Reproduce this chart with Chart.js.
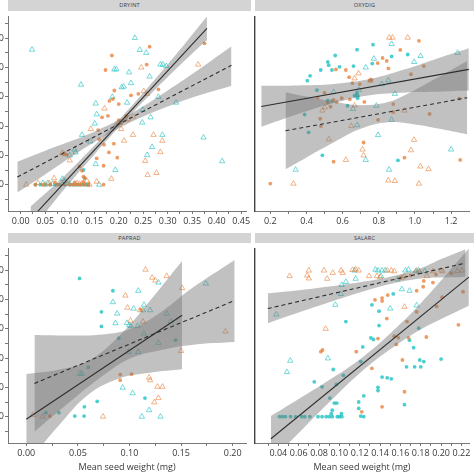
<!DOCTYPE html>
<html><head><meta charset="utf-8">
<script src="https://cdn.jsdelivr.net/npm/chart.js@4.4.1/dist/chart.umd.min.js"></script>
<style>
html,body{margin:0;padding:0;background:#fff;}
body{width:474px;height:474px;overflow:hidden;position:relative;font-family:'Open Sans',sans-serif;}
canvas{position:absolute;}
.strip{position:absolute;background:#d4d4d4;color:#3a3a3a;font-size:5.6px;text-align:center;letter-spacing:0.2px;}
</style></head><body>
<canvas id="c1" width="273" height="221" style="left:-22px;top:12px"></canvas>
<canvas id="c2" width="224" height="221" style="left:250px;top:12px"></canvas>
<canvas id="c3" width="273" height="229" style="left:-22px;top:244px"></canvas>
<canvas id="c4" width="224" height="229" style="left:250px;top:244px"></canvas>
<div class="strip" style="left:8px;top:0;width:243px;height:11px;line-height:11px">DRYINT</div>
<div class="strip" style="left:255px;top:0;width:219px;height:11px;line-height:11px">OXYDIG</div>
<div class="strip" style="left:8px;top:233px;width:243px;height:10px;line-height:10px">PAPRAD</div>
<div class="strip" style="left:255px;top:233px;width:219px;height:10px;line-height:10px">SALARC</div>
<script>
// ---------- shared y axis ----------
const yTickValues = [0, 20, 40, 60, 80, 100];
const yTickLabels = ['0', '20', '40', '60', '80', '100'];
const yMinorTicks = [-10, 10, 30, 50, 70, 90, 110];

// ---------- DRYINT ----------
const dryintXTicks = [0, 0.05, 0.10, 0.15, 0.20, 0.25, 0.30, 0.35, 0.40, 0.45];
const dryintXLabels = ['0.00','0.05','0.10','0.15','0.20','0.25','0.30','0.35','0.40','0.45'];
const dryintXMinor = [0.025, 0.075, 0.125, 0.175, 0.225, 0.275, 0.325, 0.375, 0.425];
const dryintOrangeDots = [[0.375,96.5],[0.263,94.2],[0.186,88.2],[0.173,78.3],[0.257,82],[0.191,64.3],[0.181,57.2],[0.188,58.5],[0.281,65],[0.178,47],[0.166,46],[0.158,37.3],[0.17,27.3],[0.18,22],[0.197,18.4],[0.155,18],[0.169,12.9],[0.12,12.4],[0.125,9.5],[0.128,5.5],[0.131,4.5],[0.169,0],[0.205,42],[0.2,44],[0.215,47],[0.24,62],[0.2,55],[0.225,61],[0.16,31],[0.19,28],[0.088,21],[0.094,20.5],[0.03,0],[0.045,0],[0.06,0],[0.075,0],[0.1,0],[0.108,0],[0.115,0],[0.122,0],[0.13,0],[0.138,0],[0.07,1.5],[0.11,1.5],[0.128,1.8]];
const dryintOrangeTri = [[0.362,82],[0.246,80],[0.251,63.9],[0.258,62],[0.171,52],[0.143,38],[0.22,45],[0.229,46.5],[0.215,44],[0.271,34],[0.289,30],[0.229,34],[0.211,30],[0.285,22.2],[0.254,16.2],[0.259,6.7],[0.277,8],[0.185,4],[0.155,2],[0.085,21.7],[0.09,20.8],[0.1,16.6],[0.068,4.4],[0.011,0],[0.035,1.2],[0.05,0],[0.058,1],[0.085,0.5],[0.115,1],[0.125,0.5],[0.135,2.5],[0.12,0.5],[0.095,0.5],[0.14,0],[0.205,38],[0.195,41]];
const dryintCyanDots = [[0.128,10],[0.13,4.5],[0.03,0],[0.04,0],[0.05,0],[0.06,0],[0.07,0],[0.08,0],[0.09,0],[0.1,0],[0.105,0],[0.11,0],[0.115,0],[0.12,0],[0.125,0],[0.13,0],[0.135,0],[0.138,0]];
const dryintCyanTri = [[0.023,92.2],[0.233,100.2],[0.243,92],[0.256,90],[0.191,78.7],[0.195,78.7],[0.221,76.7],[0.123,68.3],[0.206,66.5],[0.21,67],[0.225,69.4],[0.263,73.8],[0.285,82],[0.29,82],[0.297,81],[0.153,55.4],[0.187,59.9],[0.217,56],[0.249,51.2],[0.281,59.9],[0.317,56],[0.265,46],[0.248,42.4],[0.151,41.7],[0.125,34],[0.142,29.5],[0.289,34],[0.373,32.2],[0.268,25.7],[0.258,20.2],[0.411,16],[0.153,14],[0.193,10],[0.16,0],[0.085,4],[0.1,0.5],[0.112,22],[0.1,20],[0.11,24],[0.155,48],[0.045,1],[0.055,1],[0.065,0.5],[0.09,2.5]];
const dryintSolidLine = [[0.02,-23.6],[0.38,106.8]];
const dryintSolidBandX = [0.02, 0.09, 0.15, 0.21, 0.27, 0.33, 0.38];
const dryintSolidBandLo = [-32, -2.7, 20.5, 42.7, 63.4, 83.2, 98.8];
const dryintSolidBandHi = [-15, 6.3, 26.5, 47.7, 70.4, 94.2, 114.8];
const dryintDashedLine = [[-0.007,5.2],[0.43,81.5]];
const dryintDashedBandX = [-0.007, 0.05, 0.10, 0.15, 0.20, 0.25, 0.30, 0.35, 0.43];
const dryintDashedBandLo = [-5.3, 7, 18.4, 29, 38.5, 46.5, 53.3, 59.5, 67.6];
const dryintDashedBandHi = [15.7, 23.2, 29.4, 36.2, 44.1, 53.5, 64.3, 75.5, 94.5];

// ---------- OXYDIG ----------
const oxydigXTicks = [0.2, 0.4, 0.6, 0.8, 1.0, 1.2];
const oxydigXLabels = ['0.2','0.4','0.6','0.8','1.0','1.2'];
const oxydigXMinor = [0.3, 0.5, 0.7, 0.9, 1.1];
const oxydigOrangeDots = [[0.2,0.7],[1.022,98.2],[0.919,92],[0.821,86.5],[0.844,84.5],[0.794,83],[0.853,79.4],[1.049,81],[0.978,75.4],[0.75,71.2],[0.76,71.6],[0.636,73.4],[0.618,78.3],[0.563,78.7],[0.654,69.4],[0.695,68.7],[0.5,62.7],[0.518,56],[0.55,57.8],[0.567,56.5],[0.533,53.2],[0.595,59],[0.64,58.3],[0.72,56.5],[0.476,45],[0.48,40],[0.55,15.7],[0.716,28.8],[0.88,55],[0.88,49.5],[0.796,44.3],[0.942,18.4],[1.081,48.3],[1.25,16.9],[1.245,58.8],[0.462,59.4]];
const oxydigOrangeTri = [[0.858,100.4],[0.876,100.4],[0.96,100.4],[0.688,76],[0.666,72.6],[0.753,71],[0.488,50.6],[0.502,52.8],[0.648,40],[0.524,31],[0.71,24],[0.716,20],[0.618,16.9],[0.328,0.7],[0.853,2.9],[0.889,2.5],[1.022,0.7],[1.03,12.4],[1.075,10.6],[0.995,30.6],[0.978,23.5],[0.942,50.6],[0.666,54]];
const oxydigCyanDots = [[0.559,88.2],[0.518,83.8],[0.523,81.6],[0.479,78.3],[0.541,78.3],[0.583,80.5],[0.42,74.3],[0.405,71],[0.68,92.2],[0.768,95.6],[0.764,82.7],[0.871,87.6],[0.96,88.9],[0.66,81],[0.458,64.5],[0.518,57.6],[0.541,57.2],[0.679,62.5],[0.683,60.8],[0.683,59],[0.666,60.8],[0.627,53.9],[0.39,47.9],[0.412,35.7],[0.488,20],[0.906,16.6]];
const oxydigCyanTri = [[0.871,96],[0.773,86],[0.728,80],[1.031,87.8],[0.996,83.8],[1.236,90],[0.853,71.2],[0.817,68.7],[0.55,63.2],[0.68,61],[0.69,64.7],[0.657,51.7],[0.787,53.9],[0.889,62],[0.871,44.3],[0.681,40.6],[0.796,33.9],[0.728,16.9],[0.34,10.2],[0.857,10.2],[1.2,24]];
const oxydigSolidLine = [[0.15,53.4],[1.298,78.7]];
const oxydigSolidBandX = [0.15, 0.35, 0.55, 0.75, 0.95, 1.1, 1.298];
const oxydigSolidBandLo = [39.5, 48, 55.7, 61.1, 63, 63.4, 64.3];
const oxydigSolidBandHi = [67.6, 67.7, 68.7, 72.1, 79, 85.2, 93.1];
const oxydigDashedLine = [[0.284,36.8],[1.289,59.4]];
const oxydigDashedBandX = [0.284, 0.4, 0.55, 0.7, 0.85, 1.0, 1.15, 1.289];
const oxydigDashedBandLo = [10.5, 18.6, 28.8, 38.1, 42.6, 41.1, 37.8, 34.4];
const oxydigDashedBandHi = [63.1, 60.2, 56.8, 54.3, 56.4, 64.7, 74.8, 84.4];

// ---------- PAPRAD ----------
const papradXTicks = [0, 0.05, 0.10, 0.15, 0.20];
const papradXLabels = ['0.00','0.05','0.10','0.15','0.20'];
const papradXMinor = [0.025, 0.075, 0.125, 0.175];
const papradOrangeDots = [[0.0228,0.4],[0.091,28.7],[0.091,24.9],[0.111,73.1],[0.102,29]];
const papradOrangeTri = [[0.1155,100.4],[0.122,94.9],[0.125,93],[0.136,96],[0.096,82.7],[0.098,74.4],[0.101,65.6],[0.11,72.7],[0.113,64.9],[0.151,87.8],[0.15,44.9],[0.193,58.2],[0.12,24.9],[0.119,26.7],[0.127,20.4],[0.124,9.8],[0.128,12.7],[0.0744,0],[0.0158,0],[0.0063,1.1],[0.132,20.4]];
const papradCyanDots = [[0.0516,94.4],[0.0839,86],[0.0728,71.6],[0.0728,61.6],[0.0896,53.6],[0.0601,33.6],[0.0687,10.4],[0.0563,6.7],[0.047,0.4],[0.056,0.4],[0.0316,2.7],[0.019,2.7],[0.115,12.7],[0.1446,52.2]];
const papradCyanTri = [[0.0839,78.2],[0.088,70.4],[0.0864,63.8],[0.0975,64],[0.0997,62.4],[0.1013,61.8],[0.104,73.8],[0.108,62],[0.113,72.7],[0.12,72.7],[0.114,76.4],[0.1085,86],[0.128,91.6],[0.136,70.4],[0.114,56.7],[0.128,50.4],[0.099,44.2],[0.1085,44.2],[0.0934,19.8],[0.103,16],[0.119,4.4],[0.112,0],[0.13,0],[0.174,90.9],[0.052,29.3],[0.054,29.3],[0.14,65]];
const papradSolidLine = [[0,-1.8],[0.151,69.3]];
const papradSolidBandX = [0, 0.03, 0.06, 0.09, 0.12, 0.151];
const papradSolidBandLo = [-32.8, -7.3, 15, 26.1, 30, 32.3];
const papradSolidBandHi = [29.2, 31.9, 38, 55.1, 79.4, 106.3];
const papradDashedLine = [[0.0079,22.7],[0.2019,79.3]];
const papradDashedBandX = [0.0079, 0.04, 0.07, 0.10, 0.13, 0.16, 0.2019];
const papradDashedBandLo = [-10.3, 8.8, 25.7, 39.5, 45.4, 49, 50.9];
const papradDashedBandHi = [55.7, 55.4, 55.9, 59.7, 71.2, 87.5, 107];

// ---------- SALARC ----------
const salarcXTicks = [0.04, 0.06, 0.08, 0.10, 0.12, 0.14, 0.16, 0.18, 0.20, 0.22];
const salarcXLabels = ['0.04','0.06','0.08','0.10','0.12','0.14','0.16','0.18','0.20','0.22'];
const salarcXMinor = [0.03, 0.05, 0.07, 0.09, 0.11, 0.13, 0.15, 0.17, 0.19, 0.21];
const salarcOrangeDots = [[0.0818,44.4],[0.0834,45.5],[0.1166,44.4],[0.132,33],[0.138,53.3],[0.142,81],[0.142,78.9],[0.1476,83],[0.1466,67],[0.154,54.9],[0.156,49.3],[0.158,53.8],[0.162,38.7],[0.1665,64.9],[0.168,53.8],[0.176,71.6],[0.176,86],[0.1824,88.7],[0.1855,54.4],[0.183,92.7],[0.192,91.6],[0.1957,75.3],[0.201,81.6],[0.217,62.7],[0.2216,85.3],[0.142,6.7],[0.122,3.3],[0.164,17],[0.135,79.8],[0.16,95],[0.17,96.5],[0.21,98],[0.195,97]];
const salarcOrangeTri = [[0.0511,96],[0.07,99.8],[0.0684,96.4],[0.07,94.4],[0.0849,99.8],[0.088,94.2],[0.0935,98.2],[0.1017,99.8],[0.1033,98.2],[0.113,100.2],[0.116,100.6],[0.119,99.8],[0.1292,96],[0.137,96],[0.14,95.3],[0.147,99.8],[0.151,99.8],[0.154,99.3],[0.1615,94.9],[0.164,96],[0.176,99.8],[0.179,98.7],[0.186,96],[0.192,99.3],[0.2,99.8],[0.2016,99.3],[0.216,99.3],[0.2205,99.8],[0.0865,60],[0.164,75]];
const salarcCyanDots = [[0.1064,64.9],[0.123,47.6],[0.132,76.4],[0.139,72],[0.139,62.2],[0.131,53.8],[0.1335,52.7],[0.121,37.6],[0.142,27],[0.147,26.5],[0.151,25.8],[0.138,20],[0.138,17.8],[0.124,14.2],[0.119,10],[0.119,5.6],[0.121,0.4],[0.124,0],[0.104,28.2],[0.097,22],[0.083,20.4],[0.0754,23.8],[0.0906,12.7],[0.095,9.3],[0.0975,9.3],[0.093,4.4],[0.092,2],[0.102,2],[0.164,8.2],[0.169,52.2],[0.173,47.1],[0.178,60.4],[0.179,38.7],[0.18,34],[0.174,34],[0.166,34],[0.183,37.6],[0.2,39.3],[0.094,32.2],[0.153,83.8],[0.041,0],[0.044,0],[0.047,0],[0.052,0],[0.057,0],[0.063,0],[0.066,0],[0.071,0],[0.079,0],[0.083,0],[0.087,0],[0.09,0],[0.093,0],[0.098,0],[0.1,0],[0.1025,0]];
const salarcCyanTri = [[0.038,69.8],[0.0517,38.2],[0.0485,30.4],[0.0887,39.8],[0.096,76.4],[0.1023,90],[0.1014,83.8],[0.1064,92],[0.115,99.8],[0.116,94.2],[0.1355,100.4],[0.138,99.8],[0.142,99.8],[0.145,99.8],[0.141,96],[0.15,73.8],[0.157,93.8],[0.1615,87],[0.165,99.8],[0.168,100.4],[0.175,99.3],[0.178,99.8],[0.169,86],[0.176,76],[0.184,99.3]];
const salarcSolidLine = [[0.0327,-15.1],[0.2273,95.3]];
const salarcSolidBandX = [0.0327, 0.06, 0.09, 0.12, 0.15, 0.18, 0.2273];
const salarcSolidBandLo = [-30.6, -11.2, 9.8, 29.7, 46, 59.6, 75.8];
const salarcSolidBandHi = [0.4, 12, 25, 39.1, 56.8, 77.4, 114.8];
const salarcDashedLine = [[0.0296,73.8],[0.224,104.9]];
const salarcDashedBandX = [0.0296, 0.06, 0.09, 0.12, 0.15, 0.18, 0.20, 0.224];
const salarcDashedBandLo = [63.8, 71.1, 78.1, 84.8, 90.6, 94.4, 95, 95.4];
const salarcDashedBandHi = [84.2, 86.3, 88.9, 91.8, 95.6, 101.4, 107.6, 114.4];

// ---------- rendering ----------
const FONT = "'Open Sans', sans-serif";
const ORANGE = 'rgba(232,128,58,0.78)';
const CYAN = 'rgba(24,192,192,0.78)';
const ORANGE_T = 'rgba(232,128,58,0.7)';
const CYAN_T = 'rgba(24,192,192,0.7)';
const BAND = 'rgba(118,118,118,0.45)';
const Y_MIN = -18, Y_MAX = 114.6;

const pts = a => a.map(p => ({x: p[0], y: p[1]}));
const band = (xs, ys) => xs.map((x, i) => ({x: x, y: ys[i]}));

function dotSet(data, color) {
  return {data: pts(data), showLine: false, pointStyle: 'circle', pointRadius: 1.9,
    pointBackgroundColor: color, pointBorderWidth: 0, borderWidth: 0, order: 3};
}
function triSet(data, color) {
  return {data: pts(data), showLine: false, pointStyle: 'triangle', pointRadius: 3.1,
    pointBackgroundColor: 'rgba(0,0,0,0)', pointBorderColor: color, pointBorderWidth: 0.85, borderWidth: 0, order: 3};
}
function bandSets(xs, lo, hi) {
  return [
    {data: band(xs, lo), borderWidth: 0, pointRadius: 0, fill: false, tension: 0.4, order: 2, borderColor: 'rgba(0,0,0,0)'},
    {data: band(xs, hi), borderWidth: 0, pointRadius: 0, fill: '-1', backgroundColor: BAND, tension: 0.4, order: 2, borderColor: 'rgba(0,0,0,0)'}
  ];
}
function lineSet(data, dashed) {
  return {data: pts(data), borderColor: '#2e2e2e', borderWidth: 1.1, borderDash: dashed ? [4, 3] : [],
    pointRadius: 0, fill: false, order: 1};
}
function zeroPad(s) { s.paddingLeft = 0; s.paddingRight = 0; s.paddingTop = 0; s.paddingBottom = 0; }

function makePanel(id, p) {
  const datasets = [
    dotSet(p.orangeDots, ORANGE), triSet(p.orangeTri, ORANGE_T),
    dotSet(p.cyanDots, CYAN), triSet(p.cyanTri, CYAN_T),
    ...bandSets(p.solidBandX, p.solidBandLo, p.solidBandHi),
    ...bandSets(p.dashedBandX, p.dashedBandLo, p.dashedBandHi),
    lineSet(p.solidLine, false), lineSet(p.dashedLine, true)
  ];
  const tickFont = {family: FONT, size: 9};
  const x = {
    type: 'linear', min: p.xMin, max: p.xMax,
    afterBuildTicks: s => { s.ticks = p.xTicks.concat(p.xMinor).sort((a, b) => a - b).map(v => ({value: v})); },
    afterFit: s => { s.height = p.xAxisH; zeroPad(s); },
    ticks: {autoSkip: false, maxRotation: 0, minRotation: 0, padding: 2, color: '#383838', font: tickFont,
      callback: v => { const i = p.xTicks.indexOf(v); return i >= 0 ? p.xLabels[i] : ''; }},
    grid: {display: true, drawOnChartArea: false, drawTicks: true, tickLength: 3, color: '#777', lineWidth: 1},
    border: {display: true, color: '#777', width: 1},
    title: p.xTitle ? {display: true, text: p.xTitle, color: '#383838', font: {family: FONT, size: 9}, padding: {top: 0, bottom: 0}} : {display: false}
  };
  const y = p.showY ? {
    type: 'linear', min: Y_MIN, max: Y_MAX,
    afterBuildTicks: s => { s.ticks = yTickValues.concat(yMinorTicks).sort((a, b) => a - b).map(v => ({value: v})); },
    afterFit: s => { s.width = 30; zeroPad(s); },
    ticks: {autoSkip: false, padding: 1, color: '#383838', font: tickFont,
      callback: v => { const i = yTickValues.indexOf(v); return i >= 0 ? yTickLabels[i] : ''; }},
    grid: {display: true, drawOnChartArea: false, drawTicks: true, tickLength: 3, color: '#777', lineWidth: 1},
    border: {display: true, color: '#777', width: 1}
  } : {
    type: 'linear', min: Y_MIN, max: Y_MAX,
    afterFit: s => { s.width = 2; zeroPad(s); },
    ticks: {display: false},
    grid: {display: false},
    border: {display: true, color: '#444', width: 1.4}
  };
  new Chart(document.getElementById(id), {
    type: 'line',
    data: {datasets},
    options: {
      responsive: false, animation: false, devicePixelRatio: 1, events: [],
      layout: {padding: 0},
      plugins: {legend: {display: false}, tooltip: {enabled: false}, title: {display: false}},
      scales: {x, y}
    }
  });
}

makePanel('c1', {xMin: -0.026, xMax: 0.46, xTicks: dryintXTicks, xLabels: dryintXLabels, xMinor: dryintXMinor, xAxisH: 22, showY: true,
  orangeDots: dryintOrangeDots, orangeTri: dryintOrangeTri, cyanDots: dryintCyanDots, cyanTri: dryintCyanTri,
  solidLine: dryintSolidLine, solidBandX: dryintSolidBandX, solidBandLo: dryintSolidBandLo, solidBandHi: dryintSolidBandHi,
  dashedLine: dryintDashedLine, dashedBandX: dryintDashedBandX, dashedBandLo: dryintDashedBandLo, dashedBandHi: dryintDashedBandHi});
makePanel('c2', {xMin: 0.1146, xMax: 1.2998, xTicks: oxydigXTicks, xLabels: oxydigXLabels, xMinor: oxydigXMinor, xAxisH: 22, showY: false,
  orangeDots: oxydigOrangeDots, orangeTri: oxydigOrangeTri, cyanDots: oxydigCyanDots, cyanTri: oxydigCyanTri,
  solidLine: oxydigSolidLine, solidBandX: oxydigSolidBandX, solidBandLo: oxydigSolidBandLo, solidBandHi: oxydigSolidBandHi,
  dashedLine: oxydigDashedLine, dashedBandX: oxydigDashedBandX, dashedBandLo: oxydigDashedBandLo, dashedBandHi: oxydigDashedBandHi});
makePanel('c3', {xMin: -0.0177, xMax: 0.213, xTicks: papradXTicks, xLabels: papradXLabels, xMinor: papradXMinor, xAxisH: 30, showY: true, xTitle: 'Mean seed weight (mg)',
  orangeDots: papradOrangeDots, orangeTri: papradOrangeTri, cyanDots: papradCyanDots, cyanTri: papradCyanTri,
  solidLine: papradSolidLine, solidBandX: papradSolidBandX, solidBandLo: papradSolidBandLo, solidBandHi: papradSolidBandHi,
  dashedLine: papradDashedLine, dashedBandX: papradDashedBandX, dashedBandLo: papradDashedBandLo, dashedBandHi: papradDashedBandHi});
makePanel('c4', {xMin: 0.0169, xMax: 0.2276, xTicks: salarcXTicks, xLabels: salarcXLabels, xMinor: salarcXMinor, xAxisH: 30, showY: false, xTitle: 'Mean seed weight (mg)',
  orangeDots: salarcOrangeDots, orangeTri: salarcOrangeTri, cyanDots: salarcCyanDots, cyanTri: salarcCyanTri,
  solidLine: salarcSolidLine, solidBandX: salarcSolidBandX, solidBandLo: salarcSolidBandLo, solidBandHi: salarcSolidBandHi,
  dashedLine: salarcDashedLine, dashedBandX: salarcDashedBandX, dashedBandLo: salarcDashedBandLo, dashedBandHi: salarcDashedBandHi});
</script>
</body></html>
